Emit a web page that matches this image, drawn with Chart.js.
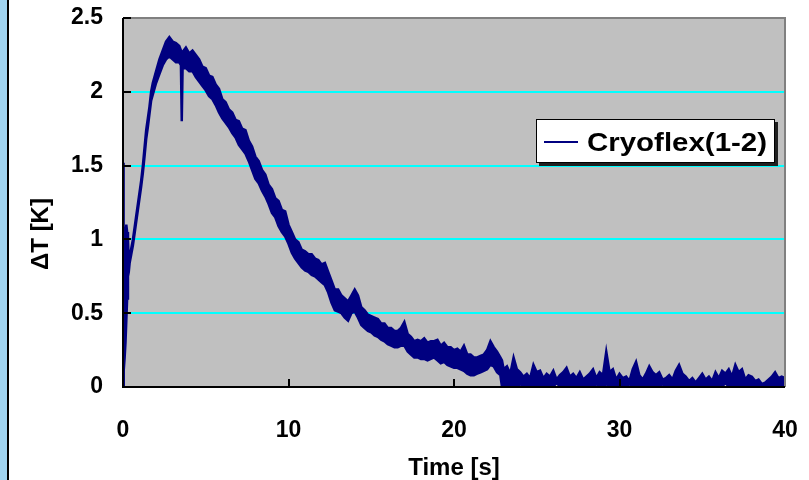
<!DOCTYPE html>
<html>
<head>
<meta charset="utf-8">
<script src="https://cdn.jsdelivr.net/npm/chart.js@4.4.1/dist/chart.umd.min.js"></script>
<style>
  html, body { margin: 0; padding: 0; background: #fff; }
  #wrap { position: relative; width: 809px; height: 480px; overflow: hidden; }
  #strip { position: absolute; left: 0; top: 0; width: 7px; height: 480px; background: #a0d4f0; border-right: 2px solid #000; }
  canvas { position: absolute; left: 0; top: 0; }
</style>
</head>
<body>
<div id="wrap">
  <canvas id="chart" width="809" height="480"></canvas>
  <div id="strip"></div>
</div>
<script>
// Trace read off the picture as the upper and lower edge of the noisy band
// t in s, dT in K
const timeS = [
  0, 0.02, 0.05, 0.1, 0.15, 0.2, 0.25, 0.3, 0.35, 0.4,
  0.5, 0.6, 0.7, 0.8, 0.9, 1.0, 1.1, 1.2, 1.3, 1.4,
  1.5, 1.6, 1.7, 1.8, 2.0, 2.2, 2.4, 2.6, 2.8, 3.0,
  3.2, 3.4, 3.5, 3.55, 3.6, 3.8, 4.0, 4.2, 4.4, 4.6,
  4.8, 5.0, 5.2, 5.4, 5.6, 5.8, 6.0, 6.2, 6.4, 6.6,
  6.8, 7.0, 7.2, 7.4, 7.6, 7.8, 8.0, 8.2, 8.4, 8.6,
  8.8, 9.0, 9.2, 9.4, 9.6, 9.8, 10.0, 10.2, 10.4, 10.6,
  10.8, 11.0, 11.2, 11.4, 11.6, 11.8, 12.0, 12.2, 12.4, 12.6,
  12.8, 13.0, 13.2, 13.4, 13.6, 13.8, 14.0, 14.2, 14.4, 14.6,
  14.8, 15.0, 15.2, 15.4, 15.6, 15.8, 16.0, 16.2, 16.4, 16.6,
  16.8, 17.0, 17.2, 17.4, 17.6, 17.8, 18.0, 18.2, 18.4, 18.6,
  18.8, 19.0, 19.2, 19.4, 19.6, 19.8, 20.0, 20.2, 20.4, 20.6,
  20.8, 21.0, 21.2, 21.4, 21.6, 21.8, 22.0, 22.2, 22.4, 22.6,
  22.8, 22.9, 23.0, 23.2, 23.4, 23.6, 23.8, 24.0, 24.2, 24.4,
  24.6, 24.8, 25.0, 25.2, 25.4, 25.6, 25.8, 26.0, 26.2, 26.4,
  26.6, 26.8, 27.0, 27.2, 27.4, 27.6, 27.8, 28.0, 28.2, 28.4,
  28.6, 28.8, 29.0, 29.2, 29.4, 29.6, 29.8, 30.0, 30.2, 30.4,
  30.6, 30.8, 31.0, 31.2, 31.4, 31.6, 31.8, 32.0, 32.2, 32.4,
  32.6, 32.8, 33.0, 33.2, 33.4, 33.6, 33.8, 34.0, 34.2, 34.4,
  34.6, 34.8, 35.0, 35.2, 35.4, 35.6, 35.8, 36.0, 36.2, 36.4,
  36.6, 36.8, 37.0, 37.2, 37.4, 37.6, 37.8, 38.0, 38.2, 38.4,
  38.6, 38.8, 39.0, 39.2, 39.4, 39.6, 39.8, 40.0
];
const upperK = [
  0, 1.52, 1.0, 1.08, 1.02, 1.1, 1.05, 1.0, 0.84, 0.88,
  0.94, 1.0, 1.08, 1.16, 1.24, 1.32, 1.4, 1.5, 1.62, 1.74,
  1.82, 1.9, 2.0, 2.06, 2.14, 2.22, 2.28, 2.34, 2.37, 2.34,
  2.33, 2.31, 2.28, 2.26, 2.27, 2.3, 2.26, 2.28, 2.25, 2.22,
  2.17, 2.16, 2.11, 2.10, 2.05, 2.02, 1.95, 1.93, 1.88, 1.86,
  1.81, 1.80, 1.75, 1.74, 1.67, 1.63, 1.56, 1.53, 1.47, 1.44,
  1.37, 1.34, 1.28, 1.26, 1.20, 1.19, 1.10, 1.05, 1.00, 0.98,
  0.93, 0.92, 0.90, 0.90, 0.87, 0.86, 0.83, 0.84, 0.78, 0.72,
  0.66, 0.66, 0.62, 0.60, 0.58, 0.62, 0.66, 0.62, 0.54, 0.52,
  0.49, 0.48, 0.47, 0.46, 0.43, 0.43, 0.40, 0.40, 0.38, 0.38,
  0.40, 0.44, 0.36, 0.34, 0.31, 0.32, 0.31, 0.33, 0.30, 0.31,
  0.31, 0.32, 0.28, 0.30, 0.27, 0.27, 0.25, 0.26, 0.24, 0.28,
  0.22, 0.22, 0.20, 0.20, 0.21, 0.22, 0.25, 0.31, 0.27, 0.24,
  0.20, 0.18, 0.12, 0.14, 0.09, 0.20, 0.12, 0.10, 0.07, 0.09,
  0.06, 0.15, 0.10, 0.11, 0.06, 0.09, 0.07, 0.11, 0.05, 0.08,
  0.10, 0.13, 0.07, 0.09, 0.06, 0.10, 0.05, 0.07, 0.09, 0.12,
  0.06, 0.10, 0.08, 0.24, 0.10, 0.12, 0.05, 0.09, 0.06, 0.07,
  0.04, 0.12, 0.17, 0.08, 0.05, 0.09, 0.14, 0.10, 0.08, 0.10,
  0.05, 0.06, 0.08, 0.05, 0.11, 0.15, 0.09, 0.07, 0.04, 0.06,
  0.03, 0.06, 0.09, 0.05, 0.07, 0.04, 0.10, 0.06, 0.11, 0.09,
  0.12, 0.07, 0.15, 0.10, 0.12, 0.05, 0.08, 0.07, 0.04, 0.05,
  0.02, 0.03, 0.05, 0.07, 0.10, 0.06, 0.07, 0.06
];
const lowerK = [
  0, 0, 0.1, 0.2, 0.3, 0.45, 0.6, 0.75, 0.78, 0.84,
  0.9, 0.96, 1.04, 1.12, 1.2, 1.28, 1.36, 1.45, 1.56, 1.68,
  1.76, 1.85, 1.94, 1.98, 2.06, 2.12, 2.18, 2.22, 2.24, 2.22,
  2.2, 2.2, 2.18, 1.8, 2.16, 2.16, 2.14, 2.14, 2.10, 2.07,
  2.04, 2.01, 1.97, 1.95, 1.91, 1.86, 1.82, 1.79, 1.76, 1.72,
  1.69, 1.64, 1.61, 1.58, 1.53, 1.47, 1.41, 1.38, 1.33, 1.29,
  1.24, 1.18, 1.15, 1.09, 1.05, 1.02, 0.97, 0.91, 0.87, 0.84,
  0.81, 0.79, 0.78, 0.76, 0.75, 0.73, 0.71, 0.69, 0.64, 0.57,
  0.52, 0.51, 0.50, 0.47, 0.45, 0.50, 0.51, 0.47, 0.42, 0.40,
  0.38, 0.37, 0.35, 0.34, 0.32, 0.31, 0.29, 0.28, 0.27, 0.27,
  0.28, 0.28, 0.24, 0.22, 0.20, 0.20, 0.19, 0.19, 0.18, 0.19,
  0.20, 0.18, 0.16, 0.17, 0.15, 0.14, 0.13, 0.13, 0.12, 0.11,
  0.09, 0.08, 0.08, 0.09, 0.10, 0.11, 0.12, 0.15, 0.14, 0.10,
  0.08, 0, 0, 0, 0.01, 0, 0, 0.02, 0, 0,
  0, 0, 0.01, 0, 0, 0, 0.01, 0, 0.03, 0,
  0, 0, 0.01, 0, 0, 0, 0.01, 0, 0, 0,
  0.02, 0, 0, 0.02, 0, 0, 0, 0.01, 0, 0,
  0.02, 0, 0, 0, 0.01, 0, 0, 0, 0.01, 0,
  0.02, 0, 0, 0.01, 0, 0, 0, 0, 0.01, 0,
  0.01, 0, 0, 0, 0.01, 0, 0, 0, 0, 0.03,
  0, 0, 0, 0.01, 0, 0, 0, 0, 0.01, 0,
  0, 0.01, 0, 0, 0, 0.01, 0, 0
];
const seriesLabel = 'Cryoflex(1-2)';
const xTicks = [0, 10, 20, 30, 40];
const yTicks = [0, 0.5, 1, 1.5, 2, 2.5];
const xTitle = 'Time [s]';
const yTitle = '\u0394T [K]';

const FONT = '"Liberation Sans", Arial, sans-serif';
const NAVY = '#000080';

// gray plot background
const plotBg = {
  id: 'plotBg',
  beforeDraw(chart) {
    const { ctx, chartArea: a } = chart;
    ctx.save();
    ctx.fillStyle = '#c0c0c0';
    ctx.fillRect(a.left, a.top, a.right - a.left, a.bottom - a.top);
    ctx.restore();
  }
};

// frame, inner tick marks, axis titles, legend box
const decorations = {
  id: 'decorations',
  afterDraw(chart) {
    const { ctx, chartArea: a, scales } = chart;
    ctx.save();
    // gray top/right frame
    ctx.strokeStyle = '#808080';
    ctx.lineWidth = 2;
    ctx.beginPath();
    ctx.moveTo(a.left, a.top);
    ctx.lineTo(a.right, a.top);
    ctx.lineTo(a.right, a.bottom);
    ctx.stroke();
    // black axes and inward ticks
    ctx.strokeStyle = '#000';
    ctx.beginPath();
    ctx.moveTo(a.left, a.top);
    ctx.lineTo(a.left, a.bottom);
    ctx.lineTo(a.right, a.bottom);
    yTicks.forEach(v => {
      if (v === 0) return;
      const y = Math.round(scales.y.getPixelForValue(v));
      ctx.moveTo(a.left, y);
      ctx.lineTo(a.left + 8, y);
    });
    xTicks.forEach(v => {
      if (v === 0 || v === 40) return;
      const x = Math.round(scales.x.getPixelForValue(v));
      ctx.moveTo(x, a.bottom);
      ctx.lineTo(x, a.bottom - 8);
    });
    ctx.stroke();

    // axis titles
    ctx.fillStyle = '#000';
    ctx.font = 'bold 24px ' + FONT;
    ctx.textAlign = 'center';
    ctx.textBaseline = 'alphabetic';
    ctx.fillText(xTitle, (a.left + a.right) / 2, 475);
    ctx.save();
    ctx.translate(48, 234);
    ctx.rotate(-Math.PI / 2);
    ctx.fillText(yTitle, 0, 0);
    ctx.restore();

    // legend
    const ds = chart.data.datasets[0];
    const bx = 536, by = 119, bw = 239, bh = 44;
    ctx.fillStyle = '#202020';
    ctx.fillRect(bx + 3, by + 3, bw, bh);
    ctx.fillStyle = '#fff';
    ctx.fillRect(bx, by, bw, bh);
    ctx.strokeStyle = '#000';
    ctx.lineWidth = 1;
    ctx.strokeRect(bx + 0.5, by + 0.5, bw - 1, bh - 1);
    ctx.strokeStyle = ds.borderColor;
    ctx.lineWidth = 2;
    ctx.beginPath();
    ctx.moveTo(544, 142);
    ctx.lineTo(578, 142);
    ctx.stroke();
    ctx.fillStyle = '#000';
    ctx.font = 'bold 25px ' + FONT;
    ctx.textAlign = 'left';
    const w = ctx.measureText(ds.label).width;
    ctx.translate(587, 151);
    ctx.scale(180 / w, 1);
    ctx.fillText(ds.label, 0, 0);
    ctx.restore();
  }
};

const edge = {
  borderColor: NAVY,
  backgroundColor: NAVY,
  borderWidth: 2.5,
  pointRadius: 0,
  tension: 0,
};

new Chart(document.getElementById('chart').getContext('2d'), {
  type: 'line',
  data: {
    datasets: [
      { ...edge, label: seriesLabel, fill: '+1', data: timeS.map((t, i) => ({ x: t, y: upperK[i] })) },
      { ...edge, label: seriesLabel + ' lower', fill: false, data: timeS.map((t, i) => ({ x: t, y: lowerK[i] })) },
    ],
  },
  options: {
    responsive: false,
    animation: false,
    layout: { autoPadding: false, padding: { top: 18, right: 24, left: 0, bottom: 0 } },
    plugins: {
      legend: { display: false },
      tooltip: { enabled: false },
    },
    scales: {
      x: {
        type: 'linear',
        min: 0,
        max: 40,
        afterBuildTicks: s => { s.ticks = xTicks.map(v => ({ value: v })); },
        afterFit: s => { s.height = 93; s.paddingLeft = 0; s.paddingRight = 0; },
        grid: { display: false, drawTicks: false },
        border: { display: false },
        ticks: {
          color: '#000',
          padding: 30,
          callback: v => String(v),
          font: { family: FONT, size: 23, weight: 'bold' },
        },
      },
      y: {
        min: 0,
        max: 2.5,
        afterBuildTicks: s => { s.ticks = yTicks.map(v => ({ value: v })); },
        afterFit: s => { s.width = 123; s.paddingTop = 0; s.paddingBottom = 0; },
        grid: {
          drawTicks: false,
          lineWidth: 2,
          color: c => (c.tick && c.tick.value > 0 && c.tick.value < 2.5) ? '#00ffff' : 'rgba(0,0,0,0)',
        },
        border: { display: false },
        ticks: {
          color: '#000',
          padding: 20,
          callback: v => String(v),
          font: { family: FONT, size: 23, weight: 'bold' },
        },
      },
    },
  },
  plugins: [plotBg, decorations],
});
</script>
</body>
</html>
